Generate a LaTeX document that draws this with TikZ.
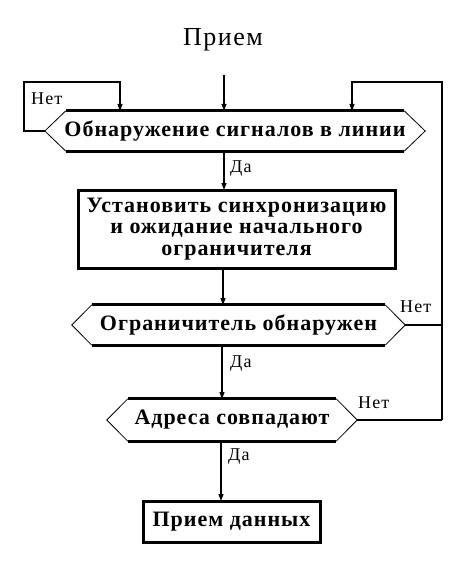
\documentclass[tikz,border=0pt]{standalone}
\usepackage{fontspec}
\setmainfont{Liberation Serif}
\newfontfamily\wideserif[LetterSpace=6]{Liberation Serif}
\newfontfamily\boldwide[LetterSpace=4.5]{Liberation Serif}
\usetikzlibrary{calc,arrows.meta}
\tikzset{
  conn/.style={line width=1.2pt},
  arr/.style={conn,-{Triangle[width=5pt,length=7pt]}},
  thickedge/.style={line width=3pt},
  thinedge/.style={line width=0.8pt},
  boxnode/.style={draw,line width=3pt,inner sep=0pt,align=center,font=\boldwide\bfseries\fontsize{22}{21.5}\selectfont},
  dectext/.style={inner sep=0pt,font=\boldwide\bfseries\fontsize{22}{21}\selectfont},
  lbl/.style={inner sep=0pt,font=\wideserif\fontsize{18}{18}\selectfont},
}
\begin{document}
\begin{tikzpicture}[x=1pt,y=-1pt]
\useasboundingbox (0,0) rectangle (470,572);
% title
\node[inner sep=0pt,font=\wideserif\fontsize{26}{26}\selectfont] (title) at (223,40) {Прием};
\coordinate (inTop) at (224,75);
% decision 1
\node[dectext,minimum width=380pt,minimum height=40pt] (d1) at (235,131) {Обнаружение сигналов в линии};
\draw[thickedge] ($(d1.north west)+(21,0)$) -- ($(d1.north east)+(-21,0)$);
\draw[thickedge] ($(d1.south west)+(21,0)$) -- ($(d1.south east)+(-21,0)$);
\draw[thinedge] ($(d1.north west)+(21,0)$) -- (d1.west) -- ($(d1.south west)+(21,0)$);
\draw[thinedge] ($(d1.north east)+(-21,0)$) -- (d1.east) -- ($(d1.south east)+(-21,0)$);
% box 1
\node[boxnode,minimum width=317pt,minimum height=78pt] (b1) at (236.5,229) {Установить синхронизацию\\и ожидание начального\\ограничителя};
% decision 2
\node[dectext,minimum width=333pt,minimum height=40pt] (d2) at (238.5,325) {Ограничитель обнаружен};
\draw[thickedge] ($(d2.north west)+(20,0)$) -- ($(d2.north east)+(-20,0)$);
\draw[thickedge] ($(d2.south west)+(20,0)$) -- ($(d2.south east)+(-20,0)$);
\draw[thinedge] ($(d2.north west)+(20,0)$) -- (d2.west) -- ($(d2.south west)+(20,0)$);
\draw[thinedge] ($(d2.north east)+(-20,0)$) -- (d2.east) -- ($(d2.south east)+(-20,0)$);
% decision 3
\node[dectext,minimum width=250pt,minimum height=42pt] (d3) at (232,420) {Адреса совпадают};
\draw[thickedge] ($(d3.north west)+(21,0)$) -- ($(d3.north east)+(-21,0)$);
\draw[thickedge] ($(d3.south west)+(21,0)$) -- ($(d3.south east)+(-21,0)$);
\draw[thinedge] ($(d3.north west)+(21,0)$) -- (d3.west) -- ($(d3.south west)+(21,0)$);
\draw[thinedge] ($(d3.north east)+(-21,0)$) -- (d3.east) -- ($(d3.south east)+(-21,0)$);
% box 2
\node[boxnode,minimum width=177pt,minimum height=41pt] (b2) at (231.5,521.5) {Прием данных};
% coordinates for loops
\coordinate (lTop) at (24,82);
\coordinate (rTop) at (442,82);
% main flow
\draw[arr] (inTop) -- (inTop |- d1.north);
\draw[arr] (224,151) -- (224,190);
\draw[arr] (223,268) -- (223,305);
\draw[arr] (222,345) -- (222,399);
\draw[arr] (221,441) -- (221,501);
% left loop
\draw[arr] (d1.west) -- (d1.west -| lTop) -- (lTop) -- (120,82) -- (120,111);
% right loop
\draw[conn] (d2.east) -- (d2.east -| rTop);
\draw[conn] (d3.east) -- (d3.east -| rTop);
\draw[arr] (d3.east -| rTop) -- (rTop) -- (352,82) -- (352,111);
% labels
\node[lbl,anchor=west] (n1) at (31,99) {Нет};
\node[lbl,anchor=west] (y1) at (230,169) {Да};
\node[lbl,anchor=west] (n2) at (400,307) {Нет};
\node[lbl,anchor=west] (y2) at (230,364) {Да};
\node[lbl,anchor=west] (n3) at (358,403) {Нет};
\node[lbl,anchor=west] (y3) at (228,457) {Да};
\end{tikzpicture}
\end{document}
